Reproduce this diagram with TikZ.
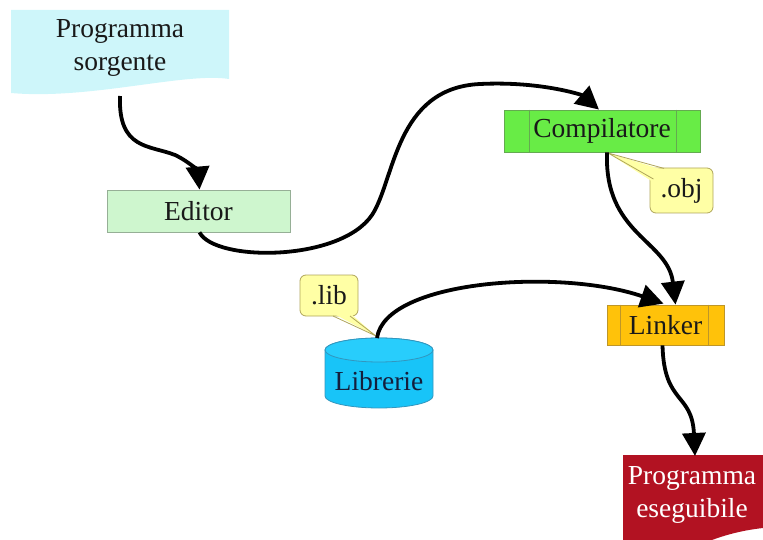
\documentclass[tikz,border=0pt]{standalone}
\usepackage{fontspec}
\setmainfont{Liberation Serif}
\usetikzlibrary{arrows.meta,calc}
\definecolor{sorgfill}{RGB}{206,246,250}
\definecolor{edfill}{RGB}{206,246,206}
\definecolor{edline}{RGB}{150,175,150}
\definecolor{compfill}{RGB}{104,236,70}
\definecolor{compline}{RGB}{100,170,80}
\definecolor{linkfill}{RGB}{255,194,10}
\definecolor{linkline}{RGB}{190,150,40}
\definecolor{callfill}{RGB}{255,255,165}
\definecolor{callline}{RGB}{175,165,90}
\definecolor{libfill}{RGB}{24,196,248}
\definecolor{libtop}{RGB}{40,205,252}
\definecolor{libline}{RGB}{50,150,190}
\definecolor{exefill}{RGB}{178,18,34}
\definecolor{txt}{RGB}{25,25,25}
\definecolor{libtxt}{RGB}{20,30,60}
\tikzset{
  lbl/.style={font=\fontsize{27.5}{33}\selectfont, text=txt, align=center, inner sep=0pt},
  box/.style={draw, line width=0.8pt, lbl, inner sep=0pt},
  callout/.style={draw=callline, fill=callfill, line width=0.8pt, rounded corners=6pt, lbl},
  conn/.style={line width=3.8pt, draw=black, -{Triangle[length=23pt,width=23pt]}},
}
\begin{document}
\begin{tikzpicture}[x=1pt,y=-1pt]
\useasboundingbox (0,0) rectangle (763,540);
% Programma sorgente (document shape)
\fill[sorgfill] (11,10) -- (229,10) -- (229,79) .. controls (185,72) and (90,100) .. (11,93) -- cycle;
\node[lbl] (sorg) at (120,48) {Programma\\sorgente};
\coordinate (sorgb) at (120,96);
% Editor
\node[box, draw=edline, fill=edfill, minimum width=183pt, minimum height=42pt] (ed) at (198.5,211) {Editor};
% Compilatore
\node[box, draw=compline, fill=compfill, minimum width=196pt, minimum height=42pt] (comp) at (602,131) {Compilatore};
\draw[compline, line width=0.8pt] ($(comp.north west)+(26,0)$) -- ($(comp.south west)+(26,0)$)
  ($(comp.north east)+(-24,0)$) -- ($(comp.south east)+(-24,0)$);
% Linker
\node[box, draw=linkline, fill=linkfill, minimum width=117pt, minimum height=40pt] (link) at (665.5,325) {Linker};
\draw[linkline, line width=0.8pt] ($(link.north west)+(14,0)$) -- ($(link.south west)+(14,0)$)
  ($(link.north east)+(-16,0)$) -- ($(link.south east)+(-16,0)$);
% Librerie cylinder
\fill[libfill, draw=libline, line width=0.8pt] (325,350) -- (325,396) arc[start angle=180, end angle=0, x radius=54, y radius=12] -- (433,350) arc[start angle=0, end angle=-180, x radius=54, y radius=12] -- cycle;
\draw[libline, line width=0.8pt, fill=libtop] (379,350) ellipse[x radius=54, y radius=12];
\node[lbl, text=libtxt] (lib) at (379,381) {Librerie};
\coordinate (libtop) at (377,338);
% Programma eseguibile
\fill[exefill] (623,455) -- (763,455) -- (763,528) .. controls (745,530) and (728,534) .. (712,540) -- (623,540) -- cycle;
\node[lbl, text=white] (exe) at (692,495) {Programma\\eseguibile};
\coordinate (exetop) at (695,456);
% Callout .obj
\node[callout, minimum width=63pt, minimum height=45pt] (obj) at (681.5,190.5) {.obj};
\fill[callfill] (608,153) -- (653,182) -- (667,171) -- cycle;
\draw[callline, line width=0.8pt] (653.4,179) -- (608,153) -- (664,168.4);
% Callout .lib
\node[callout, minimum width=58pt, minimum height=41pt] (libc) at (329,295.5) {.lib};
\fill[callfill] (332,313) -- (376,336) -- (350,313) -- cycle;
\draw[callline, line width=0.8pt] (333,316) -- (376,336) -- (350,316);
% Connectors
\draw[conn] (sorgb) .. controls (118,150) and (150,145) .. (175,155) .. controls (190,162) and (198,172) .. ($(ed.north)+(1,0)$);
\draw[conn] ($(ed.south)+(1,0)$) .. controls (215,262) and (340,262) .. (372,215) .. controls (395,180) and (395,88) .. (480,84) .. controls (540,81) and (582,95) .. ($(comp.north)+(-3,0)$);
\draw[conn] ($(comp.south)+(5,0)$) .. controls (604,235) and (668,240) .. ($(link.north)+(10,0)$);
\draw[conn] (libtop) .. controls (385,280) and (560,268) .. ($(link.north)+(-2,-1)$);
\draw[conn] ($(link.south)+(-3,0)$) .. controls (664,405) and (692,392) .. (exetop);
\end{tikzpicture}
\end{document}
